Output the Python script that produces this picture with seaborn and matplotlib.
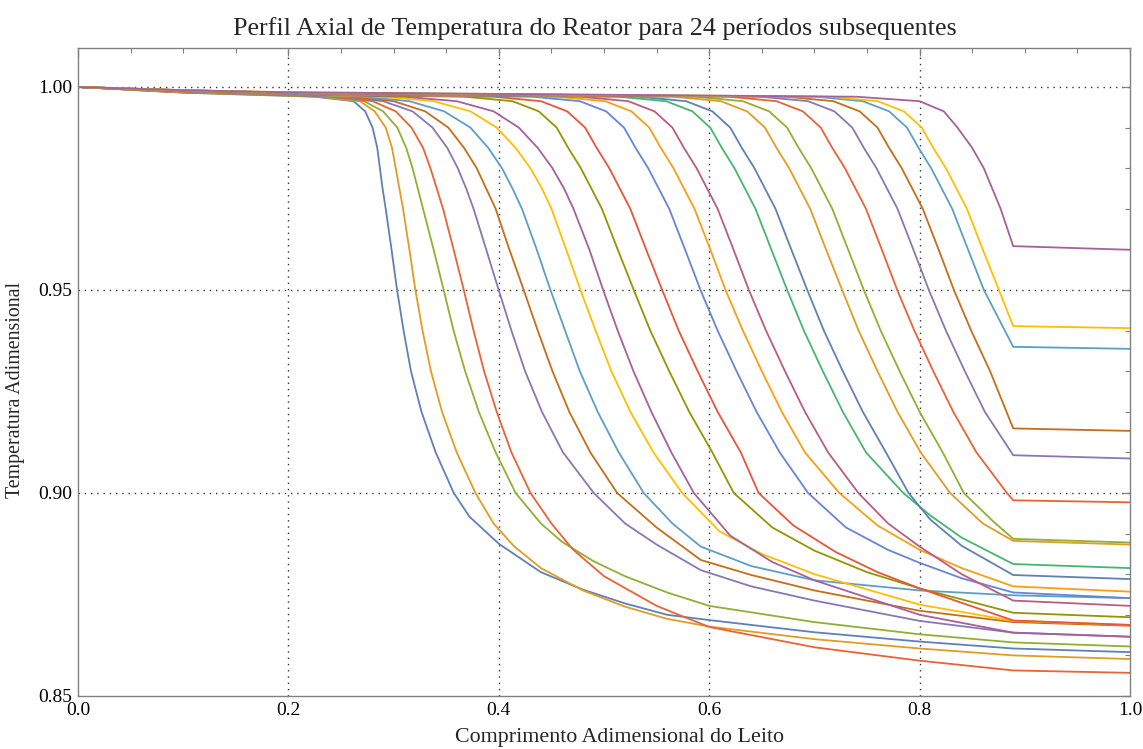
import matplotlib
matplotlib.use("Agg")
import matplotlib.pyplot as plt
import seaborn as sns
import pandas as pd
from matplotlib.ticker import MultipleLocator, FormatStrFormatter

# ---------------- data ----------------
title = "Perfil Axial de Temperatura do Reator para 24 períodos subsequentes"
xlabel = "Comprimento Adimensional do Leito"
ylabel = "Temperatura Adimensional"

# shared temperature levels at which each front's position was read
front_levels = [0.9976, 0.9965, 0.994, 0.99, 0.985, 0.98, 0.975, 0.97,
                0.96, 0.95, 0.94, 0.93, 0.92, 0.91, 0.90]
# plateau (inlet side): value at x = 0, 0.1 and 0.2 for each period
plateau_x = [0.0, 0.1, 0.2]
plateau_y_x0 = [1.0] * 24
plateau_y_x01 = [0.9986, 0.9986, 0.9987, 0.9987, 0.9987, 0.9988, 0.9988, 0.9988,
                 0.9989, 0.9989, 0.9989, 0.9990, 0.9990, 0.9990, 0.9990, 0.9991,
                 0.9991, 0.9991, 0.9991, 0.9992, 0.9992, 0.9992, 0.9992, 0.9992]
plateau_y_x02 = [0.9978, 0.9979, 0.9979, 0.9980, 0.9980, 0.9981, 0.9981, 0.9982,
                 0.9982, 0.9982, 0.9983, 0.9983, 0.9983, 0.9984, 0.9984, 0.9984,
                 0.9985, 0.9985, 0.9985, 0.9986, 0.9986, 0.9986, 0.9987, 0.9987]

front_x_01 = [0.225, 0.262, 0.273, 0.280, 0.2845, 0.287, 0.2895, 0.2925, 0.298, 0.3033, 0.3095, 0.3165, 0.3265, 0.340, 0.3572]
tail_x_01 = [0.372, 0.40, 0.44, 0.48, 0.52, 0.56, 0.60, 0.70, 0.80, 0.889, 1.0]
tail_y_01 = [0.8942, 0.8875, 0.8805, 0.8762, 0.8728, 0.8700, 0.8687, 0.8657, 0.8634, 0.8617, 0.8608]

front_x_02 = [0.23, 0.268, 0.282, 0.2925, 0.2985, 0.302, 0.3055, 0.309, 0.315, 0.3207, 0.3275, 0.3355, 0.346, 0.360, 0.3778]
tail_x_02 = [0.395, 0.414, 0.44, 0.48, 0.52, 0.56, 0.60, 0.70, 0.80, 0.889, 1.0]
tail_y_02 = [0.8925, 0.8870, 0.8815, 0.8760, 0.8720, 0.8690, 0.8671, 0.8640, 0.8617, 0.8600, 0.8591]

front_x_03 = [0.235, 0.272, 0.290, 0.3035, 0.312, 0.318, 0.323, 0.328, 0.338, 0.3476, 0.357, 0.368, 0.381, 0.397, 0.416]
tail_x_03 = [0.44, 0.46, 0.49, 0.52, 0.56, 0.60, 0.70, 0.80, 0.889, 1.0]
tail_y_03 = [0.8925, 0.8880, 0.8832, 0.8795, 0.8755, 0.8722, 0.8682, 0.8652, 0.8632, 0.8622]

front_x_04 = [0.24, 0.280, 0.302, 0.317, 0.328, 0.335, 0.341, 0.347, 0.357, 0.3667, 0.376, 0.386, 0.398, 0.412, 0.4301]
tail_x_04 = [0.45, 0.47, 0.50, 0.55, 0.60, 0.70, 0.80, 0.889, 1.0]
tail_y_04 = [0.8925, 0.8862, 0.8795, 0.8722, 0.8670, 0.8620, 0.8587, 0.8563, 0.8557]

front_x_05 = [0.25, 0.290, 0.318, 0.337, 0.351, 0.361, 0.369, 0.376, 0.388, 0.3999, 0.412, 0.425, 0.441, 0.461, 0.4903]
tail_x_05 = [0.52, 0.55, 0.592, 0.64, 0.70, 0.80, 0.889, 1.0]
tail_y_05 = [0.8925, 0.8873, 0.8810, 0.8770, 0.8735, 0.8685, 0.8656, 0.8646]

front_x_06 = [0.26, 0.300, 0.330, 0.352, 0.367, 0.379, 0.388, 0.397, 0.410, 0.4237, 0.437, 0.451, 0.467, 0.487, 0.5125]
tail_x_06 = [0.55, 0.592, 0.64, 0.70, 0.80, 0.889, 1.0]
tail_y_06 = [0.8915, 0.8835, 0.8798, 0.8760, 0.8710, 0.8682, 0.8673]

front_x_07 = [0.27, 0.315, 0.348, 0.373, 0.390, 0.403, 0.413, 0.422, 0.436, 0.4491, 0.463, 0.477, 0.494, 0.514, 0.5378]
tail_x_07 = [0.565, 0.592, 0.64, 0.70, 0.80, 0.889, 1.0]
tail_y_07 = [0.8925, 0.8868, 0.8820, 0.8785, 0.8760, 0.8748, 0.8741]

front_x_08 = [0.29, 0.338, 0.373, 0.398, 0.416, 0.430, 0.441, 0.450, 0.464, 0.4776, 0.492, 0.507, 0.525, 0.547, 0.5743]
tail_x_08 = [0.61, 0.65, 0.70, 0.80, 0.889, 1.0]
tail_y_08 = [0.8905, 0.8850, 0.8800, 0.8725, 0.8685, 0.8675]

front_x_09 = [0.31, 0.360, 0.395, 0.419, 0.437, 0.451, 0.462, 0.471, 0.486, 0.4992, 0.513, 0.528, 0.545, 0.564, 0.5854]
tail_x_09 = [0.62, 0.66, 0.70, 0.80, 0.889, 1.0]
tail_y_09 = [0.8895, 0.8830, 0.8785, 0.8700, 0.8656, 0.8646]

front_x_10 = [0.368, 0.413, 0.438, 0.455, 0.466, 0.478, 0.488, 0.498, 0.513, 0.5283, 0.544, 0.562, 0.581, 0.603, 0.6234]
tail_x_10 = [0.66, 0.70, 0.75, 0.80, 0.889, 1.0]
tail_y_10 = [0.8915, 0.8858, 0.8805, 0.8765, 0.8705, 0.8694]

front_x_11 = [0.395, 0.440, 0.465, 0.482, 0.493, 0.505, 0.515, 0.525, 0.540, 0.5553, 0.571, 0.589, 0.608, 0.630, 0.647]
tail_x_11 = [0.68, 0.72, 0.76, 0.80, 0.889, 1.0]
tail_y_11 = [0.8920, 0.8855, 0.8805, 0.8765, 0.8686, 0.8675]

front_x_12 = [0.432, 0.477, 0.502, 0.519, 0.530, 0.542, 0.552, 0.562, 0.577, 0.5917, 0.608, 0.626, 0.645, 0.667, 0.694]
tail_x_12 = [0.73, 0.77, 0.80, 0.84, 0.889, 1.0]
tail_y_12 = [0.8915, 0.8860, 0.8828, 0.8790, 0.8755, 0.8741]

front_x_13 = [0.456, 0.501, 0.526, 0.543, 0.554, 0.566, 0.576, 0.586, 0.601, 0.6155, 0.632, 0.650, 0.669, 0.691, 0.7237]
tail_x_13 = [0.76, 0.80, 0.84, 0.889, 1.0]
tail_y_13 = [0.8920, 0.8860, 0.8815, 0.8770, 0.8757]

front_x_14 = [0.478, 0.523, 0.548, 0.565, 0.576, 0.588, 0.598, 0.608, 0.623, 0.6377, 0.654, 0.672, 0.691, 0.713, 0.7418]
tail_x_14 = [0.77, 0.80, 0.84, 0.889, 1.0]
tail_y_14 = [0.8925, 0.8868, 0.8800, 0.8735, 0.8722]

front_x_15 = [0.514, 0.559, 0.584, 0.601, 0.612, 0.624, 0.634, 0.644, 0.659, 0.6741, 0.690, 0.708, 0.727, 0.749, 0.7845]
tail_x_15 = [0.81, 0.84, 0.889, 1.0]
tail_y_15 = [0.8945, 0.8890, 0.8825, 0.8815]

front_x_16 = [0.533, 0.578, 0.603, 0.620, 0.631, 0.643, 0.653, 0.663, 0.678, 0.6932, 0.709, 0.727, 0.746, 0.768, 0.7895]
tail_x_16 = [0.81, 0.84, 0.889, 1.0]
tail_y_16 = [0.8935, 0.8870, 0.8798, 0.8788]

front_x_17 = [0.566, 0.611, 0.636, 0.653, 0.664, 0.676, 0.686, 0.696, 0.711, 0.7264, 0.742, 0.760, 0.779, 0.801, 0.829]
tail_x_17 = [0.86, 0.889, 1.0]
tail_y_17 = [0.8925, 0.8882, 0.8873]

front_x_18 = [0.587, 0.632, 0.657, 0.674, 0.685, 0.697, 0.707, 0.717, 0.732, 0.747, 0.763, 0.781, 0.800, 0.822, 0.842]
tail_x_18 = [0.87, 0.889, 1.0]
tail_y_18 = [0.8930, 0.8887, 0.8878]

front_x_19 = [0.619, 0.664, 0.689, 0.706, 0.717, 0.729, 0.739, 0.749, 0.764, 0.7787, 0.795, 0.813, 0.832, 0.854, 0.883]
tail_x_19 = [0.889, 1.0]
tail_y_19 = [0.8982, 0.8977]

front_x_20 = [0.649, 0.694, 0.719, 0.736, 0.747, 0.759, 0.769, 0.779, 0.794, 0.8088, 0.825, 0.843, 0.862]
tail_x_20 = [0.889, 1.0]
tail_y_20 = [0.9093, 0.9085]

front_x_21 = [0.673, 0.718, 0.743, 0.760, 0.771, 0.783, 0.793, 0.803, 0.818, 0.8326, 0.849, 0.867]
tail_x_21 = [0.889, 1.0]
tail_y_21 = [0.9159, 0.9153]

front_x_22 = [0.701, 0.746, 0.771, 0.788, 0.799, 0.811, 0.821, 0.831, 0.846, 0.8611]
tail_x_22 = [0.889, 1.0]
tail_y_22 = [0.9360, 0.9355]

front_x_23 = [0.715, 0.760, 0.785, 0.802, 0.813, 0.825, 0.835, 0.845, 0.860, 0.8754]
tail_x_23 = [0.889, 1.0]
tail_y_23 = [0.9411, 0.9406]

front_x_24 = [0.74, 0.80, 0.823, 0.836, 0.850, 0.861, 0.869, 0.877]
tail_x_24 = [0.889, 1.0]
tail_y_24 = [0.9608, 0.9599]

period_colors = ["#5E81B5", "#E19C24", "#8FB032", "#EB6235", "#8778B3",
                 "#C56E1A", "#5D9EC7", "#FFBF00", "#A5609D", "#929600",
                 "#E9553A", "#6685D9", "#F89F13", "#BC5B80", "#47B66D",
                 "#5E81B5", "#E19C24", "#8FB032", "#EB6235", "#8778B3",
                 "#C56E1A", "#5D9EC7", "#FFBF00", "#A5609D"]

curves = [
    (front_x_01, tail_x_01, tail_y_01), (front_x_02, tail_x_02, tail_y_02),
    (front_x_03, tail_x_03, tail_y_03), (front_x_04, tail_x_04, tail_y_04),
    (front_x_05, tail_x_05, tail_y_05), (front_x_06, tail_x_06, tail_y_06),
    (front_x_07, tail_x_07, tail_y_07), (front_x_08, tail_x_08, tail_y_08),
    (front_x_09, tail_x_09, tail_y_09), (front_x_10, tail_x_10, tail_y_10),
    (front_x_11, tail_x_11, tail_y_11), (front_x_12, tail_x_12, tail_y_12),
    (front_x_13, tail_x_13, tail_y_13), (front_x_14, tail_x_14, tail_y_14),
    (front_x_15, tail_x_15, tail_y_15), (front_x_16, tail_x_16, tail_y_16),
    (front_x_17, tail_x_17, tail_y_17), (front_x_18, tail_x_18, tail_y_18),
    (front_x_19, tail_x_19, tail_y_19), (front_x_20, tail_x_20, tail_y_20),
    (front_x_21, tail_x_21, tail_y_21), (front_x_22, tail_x_22, tail_y_22),
    (front_x_23, tail_x_23, tail_y_23), (front_x_24, tail_x_24, tail_y_24),
]

# ---------------- assemble long-form table ----------------
rows = []
for i, (fx, tx, ty) in enumerate(curves):
    py = [plateau_y_x0[i], plateau_y_x01[i], plateau_y_x02[i]]
    xs = [p for p in plateau_x if p < fx[0]]
    ys = py[:len(xs)]
    xs = xs + list(fx) + list(tx)
    ys = ys + front_levels[:len(fx)] + list(ty)
    for j, (xv, yv) in enumerate(zip(xs, ys)):
        rows.append({"periodo": f"P{i+1:02d}", "idx": j, "x": xv, "y": yv})
df = pd.DataFrame(rows)

# ---------------- plot ----------------
sns.set_theme(style="white")
plt.rcParams["font.family"] = ["Liberation Serif", "DejaVu Serif"]

fig = plt.figure(figsize=(11.43, 7.49), dpi=100)
ax = fig.add_axes([78 / 1143, 53 / 749, (1130 - 78) / 1143, (696 - 48) / 749])

hue_order = [f"P{i+1:02d}" for i in range(24)]
sns.lineplot(data=df, x="x", y="y", hue="periodo", hue_order=hue_order,
             palette=period_colors, units="periodo", estimator=None,
             sort=False, legend=False, linewidth=1.3, ax=ax)
for ln in ax.get_lines():
    ln.set_solid_joinstyle("round")
    ln.set_solid_capstyle("round")

ax.set_xlim(0.0, 1.0)
ax.set_ylim(0.85, 1.0096)

ax.xaxis.set_major_locator(MultipleLocator(0.2))
ax.xaxis.set_minor_locator(MultipleLocator(0.05))
ax.yaxis.set_major_locator(MultipleLocator(0.05))
ax.yaxis.set_minor_locator(MultipleLocator(0.01))
ax.xaxis.set_major_formatter(FormatStrFormatter("%.1f"))
ax.yaxis.set_major_formatter(FormatStrFormatter("%.2f"))

for gx in [0.2, 0.4, 0.6, 0.8]:
    ax.axvline(gx, color="#333333", linestyle=(0, (1, 3.5)), linewidth=1.0, zorder=0)
for gy in [0.90, 0.95, 1.00]:
    ax.axhline(gy, color="#333333", linestyle=(0, (1, 3.5)), linewidth=1.0, zorder=0)

spine_color = "#808080"
for s in ax.spines.values():
    s.set_color(spine_color)
    s.set_linewidth(1.0)
    s.set_visible(True)

ax.tick_params(axis="both", which="both", direction="in", top=True, right=True,
               color=spine_color, labelsize=14, labelcolor="black")
ax.tick_params(axis="both", which="major", length=6, width=0.9)
ax.tick_params(axis="both", which="minor", length=3.5, width=0.8)
ax.tick_params(axis="x", which="major", pad=4)
ax.tick_params(axis="y", which="major", pad=4)

ax.set_xlabel(xlabel, fontsize=15.8, labelpad=8)
ax.xaxis.set_label_coords(0.515, -0.049)
ax.set_ylabel(ylabel, fontsize=14.3, labelpad=8)
ax.yaxis.set_label_coords(-0.050, 0.472)
ax.set_title(title, fontsize=18.8, pad=9, x=0.4914)

fig.savefig("out.png", dpi=100)
